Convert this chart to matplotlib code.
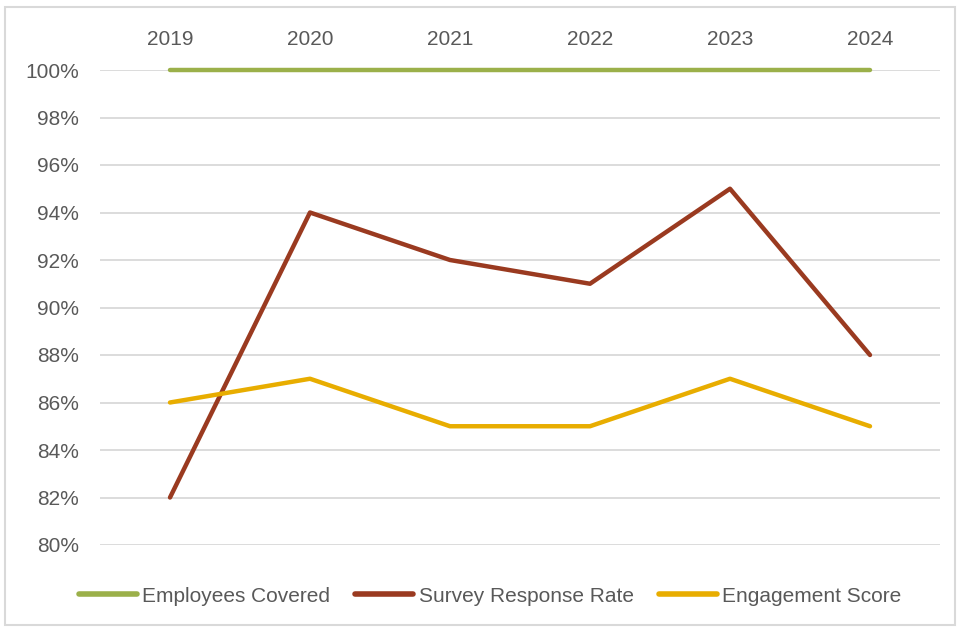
import matplotlib.pyplot as plt
from matplotlib.patches import Rectangle
from matplotlib.ticker import FuncFormatter

years = ['2019', '2020', '2021', '2022', '2023', '2024']
employees_covered = [100, 100, 100, 100, 100, 100]
survey_response = [82, 94, 92, 91, 95, 88]
engagement_score = [86, 87, 85, 85, 87, 85]

plt.rcParams['font.family'] = ['Liberation Sans', 'DejaVu Sans']

fig = plt.figure(figsize=(9.58, 6.29), dpi=100)
ax = fig.add_axes([100 / 958, 1 - 545 / 629, 840 / 958, 475 / 629])

x = range(len(years))
ax.plot(x, employees_covered, color='#9bb04a', lw=3.2, label='Employees Covered',
        solid_capstyle='round', zorder=3, clip_on=False)
ax.plot(x, survey_response, color='#9a3a20', lw=3.2, label='Survey Response Rate',
        solid_capstyle='round', zorder=3)
ax.plot(x, engagement_score, color='#e8ad00', lw=3.2, label='Engagement Score',
        solid_capstyle='round', zorder=3)

ax.set_xlim(-0.5, len(years) - 0.5)
ax.set_ylim(80, 100)
ax.set_yticks(range(80, 101, 2))
ax.yaxis.set_major_formatter(FuncFormatter(lambda v, p: f'{v:.0f}%'))
ax.set_xticks(list(x))
ax.set_xticklabels(years)
ax.xaxis.tick_top()
ax.tick_params(axis='both', length=0, labelsize=15, colors='#595959')
ax.tick_params(axis='y', pad=15)
ax.tick_params(axis='x', pad=15)
ax.grid(axis='y', color='#d9d9d9', lw=1.3, zorder=1)
for s in ax.spines.values():
    s.set_visible(False)

leg = fig.legend(loc='center', bbox_to_anchor=(490 / 958, 1 - 596 / 629), ncol=3,
                 frameon=False, handlelength=2.8, handletextpad=0.25, columnspacing=1.2,
                 prop={'size': 15})
for t in leg.get_texts():
    t.set_color('#595959')
for h in leg.legend_handles:
    h.set_linewidth(4)

fig.patches.append(Rectangle((5 / 958, 4 / 629), 950 / 958, 618 / 629, transform=fig.transFigure,
                             fill=False, edgecolor='#d9d9d9', lw=1.5))

fig.savefig('out.png', dpi=100)
